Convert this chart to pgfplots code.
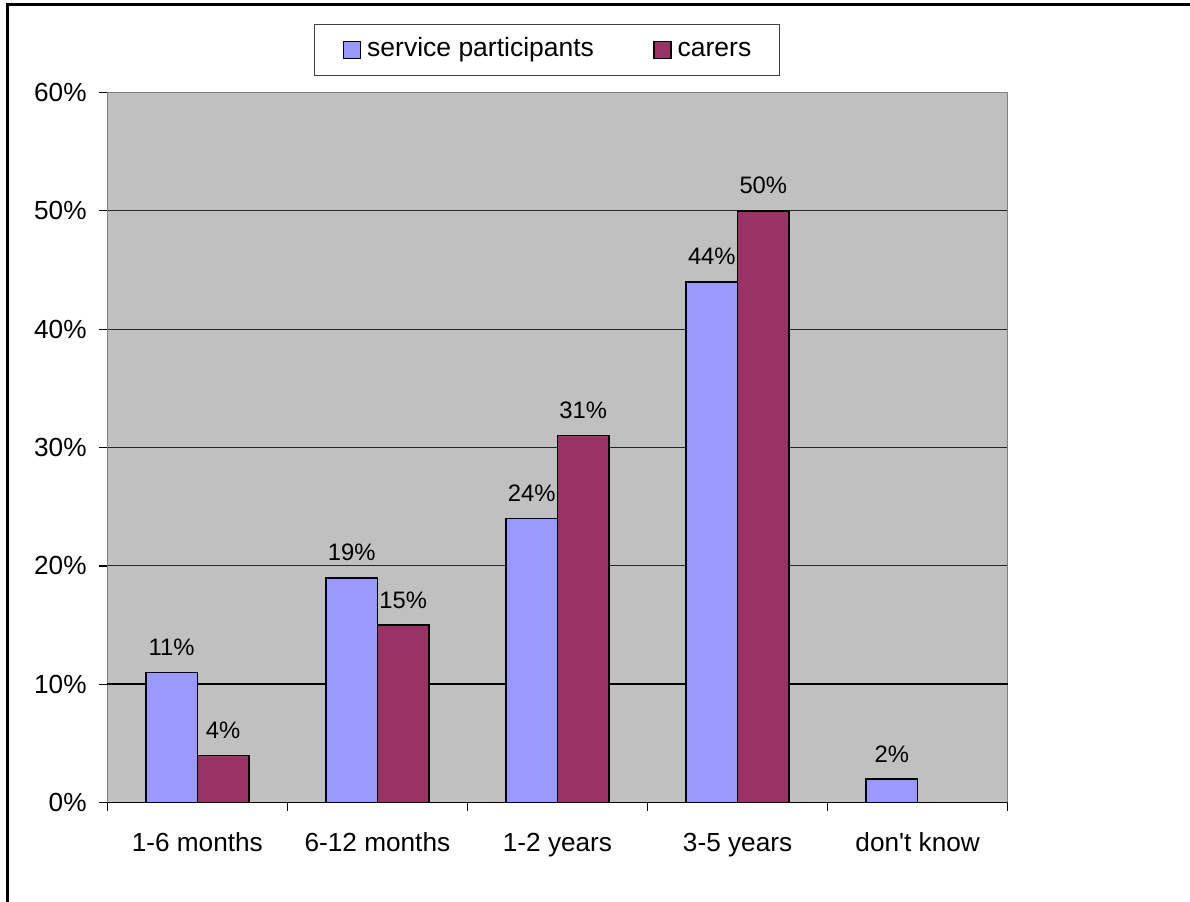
\documentclass[border=0pt]{standalone}
\usepackage{pgfplots}
\pgfplotsset{compat=1.18}
\usepackage{fontspec}
\setmainfont{Liberation Sans}[Ligatures=TeXOff]
\definecolor{partblue}{HTML}{9999FF}
\definecolor{carermaroon}{HTML}{993366}
\definecolor{plotgray}{HTML}{C0C0C0}
\newcommand{\tickfont}{\fontsize{13.1}{15.5}\selectfont}
\newcommand{\legendfont}{\fontsize{13.25}{15.5}\selectfont}
\newcommand{\labelfont}{\fontsize{11.9}{14}\selectfont}
\begin{document}
\begin{tikzpicture}[x=1pt,y=1pt]
\useasboundingbox (0,0) rectangle (595,450.5);
% outer frame
\draw[line width=1.35pt] (3.65,-5) -- (3.65,448.15) -- (600,448.15);
\begin{axis}[
  at={(53.65pt,49.15pt)}, anchor=south west,
  scale only axis, width=450.2pt, height=355.2pt,
  axis background/.style={fill=plotgray},
  axis line style={draw=black!50, line width=0.6pt},
  xmin=-0.5, xmax=4.5, ymin=0, ymax=60,
  ybar=0pt, bar width=25.75pt,
  tick align=outside,
  xtick pos=bottom, ytick pos=left,
  tick style={black, line width=0.6pt},
  % category boundaries carry the tick marks
  xtick={-0.5,0.5,1.5,2.5,3.5,4.5},
  xticklabels={},
  major tick length=4pt,
  extra x ticks={0,1,2,3,4},
  extra x tick labels={1-6 months,6-12 months,1-2 years,3-5 years,don't know},
  extra x tick style={major tick length=0pt, grid=none,
    xticklabel style={anchor=base, inner sep=0pt, yshift=-24.5pt}},
  ytick={0,10,20,30,40,50,60},
  yticklabels={0\%,10\%,20\%,30\%,40\%,50\%,60\%},
  yticklabel style={anchor=east, inner sep=0pt, xshift=-6.15pt},
  ticklabel style={font=\tickfont},
  ymajorgrids,
  major grid style={black!85, line width=0.5pt},
  extra y ticks={10},
  extra y tick labels={},
  extra y tick style={major tick length=0pt,
    major grid style={black, line width=1.1pt}},
  nodes near coords={\pgfmathprintnumber[assume math mode=true]{\pgfplotspointmeta}\%},
  every node near coord/.append style={font=\labelfont, anchor=base, inner sep=0pt, yshift=8.5pt, black},
  legend style={at={(0.4883,1.0598)}, anchor=center, draw=black!75, line width=0.5pt,
    fill=white, legend columns=2, inner xsep=14pt, inner ysep=6.75pt,
    font=\legendfont,
    nodes={inner sep=0pt, text height=9.5pt, text depth=2.5pt},
    column sep=3pt,
    /tikz/every even column/.append style={column sep=29.5pt}},
  legend image code/.code={\draw[#1, draw=black, line width=0.8pt] (0pt,-4.25pt) rectangle (8.5pt,4.25pt);},
]
\addplot[fill=partblue, draw=black, line width=0.8pt]
  coordinates {(0,11) (1,19) (2,24) (3,44) (4,2)};
\addplot[fill=carermaroon, draw=black, line width=0.8pt]
  coordinates {(0,4) (1,15) (2,31) (3,50)};
\legend{service participants, carers}
\draw[black, line width=1pt] (axis cs:-0.5,0) -- (axis cs:4.5,0);
\end{axis}
\end{tikzpicture}
\end{document}
